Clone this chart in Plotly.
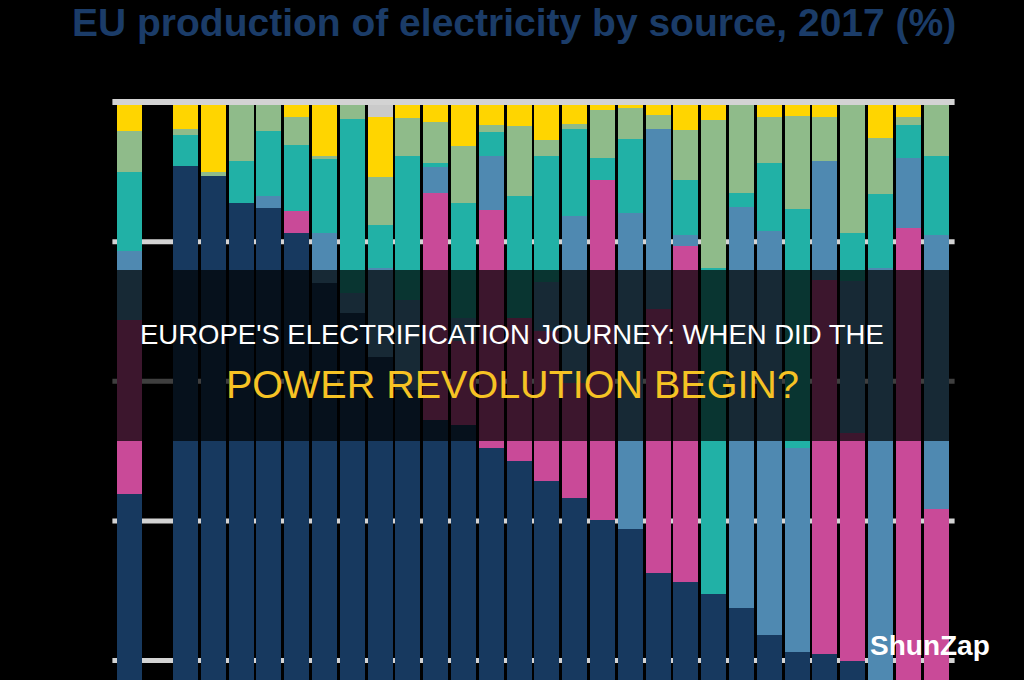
import plotly.graph_objects as go

# ---- data (share of electricity production, %, 2017) ----
categories = ["EU", " ", "CY", "MT", "EE", "PL", "NL", "EL", "IE", "IT", "PT", "CZ", "DE", "BG", "UK",
              "ES", "RO", "HU", "HR", "SI", "BE", "DK", "LV", "AT", "LT", "SK", "FI", "LU", "FR", "SE"]
fossil  = [43.9, 0, 90.8, 89.4, 85.5, 84.8, 81.3, 74.1, 69.8, 63.5, 58.7, 54.4, 53.8, 50.5, 48.6,
           45.7, 43.3, 40.1, 38.8, 32.6, 31.3, 29.6, 27.6, 23.6, 21.2, 21.0, 20.0, 12.5, 11.0, 1.5]
nuclear = [24.9, 0, 0, 0, 0, 0, 3.1, 0, 0, 0, 0, 32.6, 12.0, 34.0, 20.4,
           21.5, 16.5, 48.8, 0, 37.8, 48.1, 0, 0, 0, 0, 53.5, 32.6, 0, 70.9, 40.2]
hydro   = [9.8, 0, 0, 0, 0, 1.8, 0, 7.2, 2.9, 12.7, 13.0, 3.7, 3.2, 7.7, 0,
           7.0, 23.9, 0, 45.3, 25.8, 1.5, 0, 57.4, 57.9, 29.3, 17.0, 21.7, 63.7, 10.1, 39.2]
wind    = [11.4, 0, 4.5, 0, 6.0, 9.3, 9.4, 10.6, 24.9, 6.2, 20.5, 0.5, 16.5, 3.5, 17.5,
           18.0, 12.4, 3.1, 10.6, 0, 8.0, 46.6, 2.0, 9.7, 34.2, 0, 7.0, 10.6, 4.7, 11.3]
biofuel = [5.9, 0, 0.9, 0.6, 8.5, 4.1, 4.0, 0.3, 2.4, 6.8, 5.5, 6.0, 8.2, 1.0, 10.0,
           2.3, 0.7, 6.8, 4.4, 2.0, 7.1, 21.2, 12.6, 6.7, 13.3, 6.4, 18.7, 8.0, 1.2, 7.8]
solar   = [4.1, 0, 3.8, 10.0, 0, 0, 2.2, 7.8, 0, 8.6, 2.3, 2.8, 6.3, 3.3, 3.5,
           5.5, 3.2, 1.2, 0.9, 1.8, 4.0, 2.6, 0, 2.1, 2.0, 2.1, 0, 5.2, 2.1, 0]
other   = [0, 0, 0, 0, 0, 0, 0, 0, 0, 2.2, 0, 0, 0, 0, 0,
           0, 0, 0, 0, 0, 0, 0, 0.4, 0, 0, 0, 0, 0, 0, 0]

series_names = ["Fossil fuels", "Nuclear", "Hydro", "Wind", "Biofuels & waste", "Solar", "Geothermal & other"]
series_vals = [fossil, nuclear, hydro, wind, biofuel, solar, other]
series_cols = ["#17395f", "#c94a98", "#4f89b1", "#21b1a6", "#8fbb8a", "#ffd500", "#cacaca"]

gridlines = [20, 40, 60, 80]

fig = go.Figure()
for name, vals, col in zip(series_names, series_vals, series_cols):
    fig.add_trace(go.Bar(x=categories, y=vals, name=name, marker=dict(color=col, line=dict(width=0)),
                         hoverinfo="skip"))

PLOT_TOP, PLOT_BOT = 96, 680
PH = PLOT_BOT - PLOT_TOP
L, R = 115.6, 1024 - 950.4
PW = 1024 - L - R

def ypx(px):
    return (PLOT_BOT - px) / PH

def xpx(px):
    return (px - L) / PW

shapes = []
for g in gridlines:
    shapes.append(dict(type="line", xref="paper", yref="y", x0=xpx(112), x1=xpx(955), y0=g, y1=g,
                       line=dict(color="#d3d3d3", width=5), layer="below"))
shapes.append(dict(type="line", xref="paper", yref="y", x0=xpx(112), x1=xpx(955), y0=100, y1=100,
                   line=dict(color="#d3d3d3", width=6), layer="above"))
# dark translucent banner
shapes.append(dict(type="rect", xref="paper", yref="paper", x0=xpx(0), x1=xpx(1024),
                   y0=ypx(441), y1=ypx(270), fillcolor="rgba(0,0,0,0.70)", line=dict(width=0),
                   layer="above"))

annotations = [
    dict(text="<b>EU production of electricity by source, 2017 (%)</b>", xref="paper", yref="paper",
         x=xpx(514), y=ypx(22), showarrow=False, xanchor="center", yanchor="middle",
         font=dict(family="Liberation Sans, Arial, sans-serif", size=39, color="#1b3c68")),
    dict(text="EUROPE'S ELECTRIFICATION JOURNEY: WHEN DID THE", xref="paper", yref="paper",
         x=xpx(512), y=ypx(334), showarrow=False, xanchor="center", yanchor="middle",
         font=dict(family="Liberation Sans, Arial, sans-serif", size=27.5, color="#ffffff")),
    dict(text="POWER REVOLUTION BEGIN?", xref="paper", yref="paper",
         x=xpx(512), y=ypx(384), showarrow=False, xanchor="center", yanchor="middle",
         font=dict(family="Liberation Sans, Arial, sans-serif", size=39.5, color="#f6c324")),
    dict(text="<b>ShunZap</b>", xref="paper", yref="paper",
         x=xpx(930), y=ypx(645), showarrow=False, xanchor="center", yanchor="middle",
         font=dict(family="Liberation Sans, Arial, sans-serif", size=28, color="#ffffff")),
]

fig.update_layout(
    width=1024, height=680,
    margin=dict(l=L, r=R, t=PLOT_TOP, b=0, pad=0),
    paper_bgcolor="#000000", plot_bgcolor="#000000",
    barmode="stack", bargap=0.1,
    showlegend=False,
    shapes=shapes, annotations=annotations,
    xaxis=dict(type="category", range=[-0.5, 29.5], showticklabels=False, showgrid=False,
               zeroline=False, showline=False, ticks=""),
    yaxis=dict(range=[17.22, 100.86], showticklabels=False, showgrid=False, zeroline=False,
               showline=False, ticks=""),
)

fig.write_html("out.html", config={"displayModeBar": False})
